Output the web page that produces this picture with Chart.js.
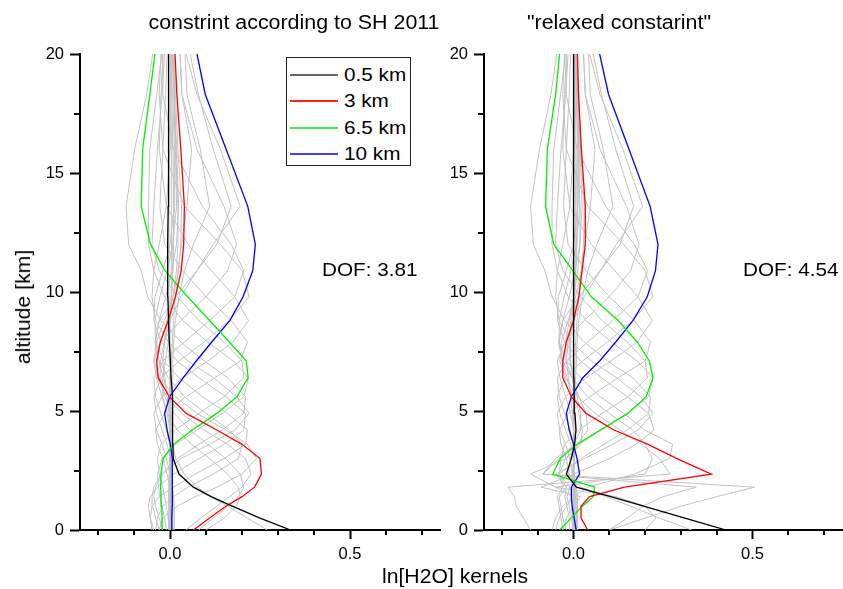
<!DOCTYPE html>
<html><head><meta charset="utf-8">
<script src="https://cdn.jsdelivr.net/npm/chart.js@4.4.1/dist/chart.umd.min.js"></script>
<style>
html,body{margin:0;padding:0;background:#fff;}
#wrap{position:relative;width:843px;height:589px;overflow:hidden;font-family:"Liberation Sans",Arial,sans-serif;color:#000;}
canvas{position:absolute;top:0;}
.t{position:absolute;white-space:nowrap;line-height:1;}
#legend{position:absolute;left:286px;top:57px;width:125px;height:109px;border:1px solid #222;box-sizing:border-box;background:#fff;}
.lg{position:absolute;left:3px;width:48px;height:0;border-top:2px solid;}
.lt{position:absolute;left:57px;font-size:18px;line-height:1;white-space:nowrap;transform:scaleX(1.15);transform-origin:left center;}
</style></head><body>
<div id="wrap">
<canvas id="c1" width="450" height="589" style="left:0px"></canvas>
<canvas id="c2" width="423" height="589" style="left:420px"></canvas>
<div class="t" id="t1" style="font-size:20px;left:294px;top:12px;transform:translateX(-50%) scaleX(1.07);">constrint according to SH 2011</div>
<div class="t" id="t2" style="font-size:20px;left:619px;top:12px;transform:translateX(-50%) scaleX(1.07);">"relaxed constarint"</div>
<div class="t" style="font-size:19px;left:322px;top:260px;transform:scaleX(1.09);transform-origin:left center;">DOF: 3.81</div>
<div class="t" style="font-size:19px;left:743px;top:260px;transform:scaleX(1.09);transform-origin:left center;">DOF: 4.54</div>
<div class="t" style="font-size:20px;left:455px;top:566px;transform:translateX(-50%) scaleX(1.06);">ln[H2O] kernels</div>
<div class="t" style="font-size:20px;left:23px;top:307px;transform:translate(-50%,-50%) rotate(-90deg) scaleX(1.06);">altitude [km]</div>
<div id="legend"></div>
</div>
<script>
// ---- data ----
const altitudes = [0,0.5,1.0,1.4,1.8,2.35,3.0,3.6,4.2,4.9,5.6,6.4,7.1,7.9,8.8,9.8,10.9,12.0,13.6,16.0,18.3,20.0];
const seriesNames = ['0.5 km','3 km','6.5 km','10 km'];
const seriesColors = ['#000000','#ff0000','#00ee00','#0000ff'];
const legendColors = ['#666666','#ff2020','#40ee40','#4040ff'];

const left05 = [0.335,0.25,0.173,0.114,0.065,0.025,0.009,0.008,0.008,0.0075,0.006,0.003,0.001,-0.002,-0.004,-0.006,-0.007,-0.006,-0.005,-0.004,-0.004,-0.004];
const left3 = [0.065,0.11,0.155,0.2,0.235,0.254,0.25,0.2,0.13,0.045,-0.002,-0.033,-0.037,-0.027,-0.005,0.015,0.031,0.038,0.04,0.03,0.019,0.014];
const left65 = [-0.021,-0.022,-0.023,-0.025,-0.026,-0.025,-0.019,0.01,0.062,0.13,0.186,0.217,0.212,0.165,0.11,0.049,-0.014,-0.054,-0.08,-0.076,-0.056,-0.042];
const left10 = [0.004,0.005,0.006,0.006,0.007,0.007,0.006,0.001,-0.008,-0.015,-0.001,0.037,0.073,0.116,0.166,0.203,0.23,0.237,0.216,0.156,0.098,0.075];

const right05 = [0.426,0.311,0.196,0.104,0.008,-0.02,-0.006,0.003,0.007,0.004,0.002,0.001,0,0,0,0,0,0,0,0.001,0.001,0.001];
const right3 = [0.04,0.021,0.021,0.045,0.142,0.385,0.289,0.208,0.113,0.035,-0.006,-0.03,-0.03,-0.02,0,0.015,0.024,0.033,0.033,0.022,0.014,0.011];
const right65 = [-0.039,-0.007,0.025,0.055,0.059,-0.058,-0.037,0.01,0.075,0.152,0.203,0.222,0.212,0.178,0.125,0.05,-0.002,-0.055,-0.078,-0.073,-0.05,-0.039];
const right10 = [0.0075,0.002,-0.004,-0.006,-0.006,0.017,0.01,0,-0.012,-0.02,-0.006,0.026,0.073,0.118,0.166,0.206,0.229,0.236,0.214,0.155,0.098,0.073];

const grayLeft = [
 [0.27,0.215,0.16,0.115,0.075,0.04,0.016,0.008,0.004,0.002,0.001,0,-0.001,-0.002,-0.003,-0.003,-0.003,-0.003,-0.003,-0.003,-0.003,-0.003],
 [0.1,0.15,0.185,0.195,0.19,0.16,0.11,0.06,0.02,-0.008,-0.02,-0.02,-0.013,-0.005,0,0.003,0.004,0.004,0.004,0.003,0.002,0.002],
 [0.08,0.12,0.16,0.19,0.205,0.195,0.155,0.105,0.055,0.012,-0.015,-0.028,-0.026,-0.016,-0.005,0.004,0.008,0.01,0.01,0.008,0.005,0.004],
 [0.045,0.085,0.13,0.165,0.2,0.225,0.21,0.16,0.095,0.032,-0.01,-0.035,-0.038,-0.026,-0.008,0.008,0.018,0.022,0.022,0.016,0.011,0.008],
 [-0.03,-0.02,0.02,0.07,0.13,0.2,0.24,0.215,0.155,0.075,0.015,-0.03,-0.045,-0.038,-0.015,0.008,0.024,0.03,0.032,0.022,0.015,0.011],
 [-0.04,-0.035,-0.02,0.01,0.05,0.12,0.19,0.2,0.165,0.1,0.04,-0.005,-0.03,-0.04,-0.03,-0.012,0.005,0.018,0.024,0.018,0.012,0.009],
 [-0.05,-0.055,-0.05,-0.03,0.01,0.07,0.15,0.21,0.215,0.16,0.09,0.025,-0.018,-0.04,-0.042,-0.028,-0.008,0.008,0.018,0.016,0.011,0.008],
 [-0.045,-0.055,-0.06,-0.055,-0.035,0.01,0.08,0.15,0.205,0.21,0.155,0.08,0.02,-0.025,-0.045,-0.042,-0.02,0,0.012,0.012,0.008,0.006],
 [-0.02,-0.03,-0.04,-0.045,-0.04,-0.02,0.03,0.11,0.18,0.22,0.185,0.12,0.05,-0.005,-0.04,-0.05,-0.045,-0.03,-0.01,0,0.002,0.002],
 [-0.03,-0.04,-0.048,-0.05,-0.045,-0.025,0.02,0.08,0.145,0.205,0.21,0.16,0.095,0.03,-0.025,-0.062,-0.08,-0.115,-0.122,-0.098,-0.065,-0.048],
 [-0.01,-0.015,-0.022,-0.028,-0.032,-0.034,-0.022,0.015,0.075,0.145,0.205,0.218,0.175,0.105,0.035,-0.015,-0.045,-0.06,-0.06,-0.056,-0.037,-0.023],
 [0,-0.005,-0.01,-0.015,-0.02,-0.03,-0.035,-0.025,0.015,0.08,0.15,0.205,0.2,0.15,0.08,0.02,-0.03,-0.05,-0.045,-0.035,-0.022,-0.015],
 [0.008,0.008,0.007,0.005,0,-0.008,-0.02,-0.035,-0.04,-0.015,0.045,0.125,0.195,0.215,0.17,0.1,0.035,-0.015,-0.028,-0.02,-0.012,-0.008],
 [0.012,0.012,0.012,0.01,0.006,0,-0.01,-0.022,-0.038,-0.045,-0.022,0.035,0.105,0.175,0.218,0.18,0.115,0.05,-0.01,-0.03,-0.025,-0.02],
 [0.008,0.008,0.008,0.008,0.006,0.004,0,-0.008,-0.022,-0.038,-0.045,-0.025,0.025,0.095,0.165,0.22,0.2,0.14,0.04,-0.02,-0.03,-0.025],
 [0.004,0.004,0.004,0.004,0.004,0.003,0.002,0,-0.01,-0.025,-0.04,-0.045,-0.02,0.04,0.11,0.18,0.205,0.17,0.09,0.01,-0.02,-0.02],
 [0,0,0,0,0,0,0.002,0.003,0,-0.008,-0.022,-0.038,-0.045,-0.025,0.03,0.1,0.16,0.185,0.15,0.075,0.033,0.028],
 [-0.004,-0.004,-0.004,-0.004,-0.003,-0.002,0,0.004,0.006,0.004,-0.004,-0.018,-0.032,-0.042,-0.03,0.015,0.075,0.13,0.17,0.12,0.079,0.056],
 [0.003,0.003,0.003,0.003,0.003,0.003,0.003,0.002,0,-0.003,-0.008,-0.014,-0.02,-0.015,0,0.03,0.075,0.12,0.195,0.14,0.075,0.045],
 [0,0,0,0,0,0,0,0,0.001,0.002,0.004,0.006,0.008,0.01,0.015,0.025,0.04,0.065,0.11,0.084,0.047,0.042],
 [0,0,0,0,0,0,0,0,0,0,0.001,0.002,0.004,0.006,0.01,0.015,0.022,0.032,0.047,0.06,0.033,0.028],
 [0,0,0,0,0,0,0,0,0,0,0,0,0,0.001,0.002,0.004,0.006,0.008,0.012,0.015,0.012,0.01]
];

const grayRight = [
 [0.33,0.24,0.16,0.09,0.02,-0.015,-0.008,0.001,0.005,0.004,0.002,0.001,0,0,-0.001,-0.001,-0.001,-0.001,-0.001,-0.001,-0.001,-0.001],
 [0.2,0.23,0.2,0.12,-0.05,-0.12,-0.02,0.02,0.025,0.015,0.005,-0.003,-0.008,-0.008,-0.004,0,0.004,0.006,0.006,0.004,0.003,0.002],
 [0.1,0.15,0.194,0.25,0.343,-0.086,-0.04,0,0.02,0.02,0.01,0,-0.01,-0.012,-0.008,0,0.006,0.01,0.01,0.007,0.005,0.004],
 [0.1,0.2,0.3,0.4,0.506,-0.086,-0.05,0.01,0.04,0.035,0.015,-0.005,-0.02,-0.022,-0.012,0,0.012,0.018,0.018,0.012,0.008,0.006],
 [-0.12,-0.14,-0.16,-0.165,-0.183,0.27,0.24,0.19,0.13,0.06,0.012,-0.022,-0.038,-0.034,-0.015,0.006,0.022,0.028,0.03,0.02,0.014,0.01],
 [-0.06,-0.05,-0.03,0,-0.05,0.2,0.22,0.2,0.165,0.1,0.04,-0.005,-0.03,-0.04,-0.03,-0.012,0.005,0.018,0.024,0.018,0.012,0.009],
 [-0.05,-0.04,-0.02,0,0.04,0.17,0.268,0.277,0.2,0.14,0.075,0.02,-0.02,-0.04,-0.04,-0.026,-0.007,0.008,0.018,0.016,0.011,0.008],
 [-0.03,-0.02,0,0.02,-0.09,0,0.1,0.175,0.225,0.21,0.15,0.078,0.02,-0.025,-0.045,-0.042,-0.02,0,0.012,0.012,0.008,0.006],
 [-0.02,-0.03,-0.035,-0.04,-0.02,-0.05,0.03,0.11,0.18,0.222,0.188,0.12,0.05,-0.005,-0.04,-0.05,-0.045,-0.03,-0.01,0,0.002,0.002],
 [-0.03,-0.035,-0.04,-0.045,-0.03,-0.04,0.02,0.085,0.15,0.21,0.215,0.165,0.095,0.03,-0.025,-0.06,-0.08,-0.112,-0.12,-0.095,-0.063,-0.047],
 [-0.01,-0.012,-0.018,-0.024,-0.02,-0.04,-0.022,0.015,0.078,0.15,0.21,0.222,0.178,0.105,0.035,-0.015,-0.045,-0.06,-0.06,-0.055,-0.036,-0.023],
 [0,-0.005,-0.012,-0.018,-0.01,-0.04,-0.035,-0.025,0.015,0.08,0.152,0.207,0.2,0.15,0.08,0.02,-0.03,-0.05,-0.045,-0.035,-0.022,-0.015],
 [0.008,0.008,0.007,0.005,0.004,-0.012,-0.02,-0.035,-0.04,-0.015,0.045,0.125,0.2,0.215,0.17,0.1,0.035,-0.015,-0.028,-0.02,-0.012,-0.008],
 [0.012,0.012,0.012,0.01,0.008,-0.004,-0.01,-0.022,-0.038,-0.045,-0.022,0.035,0.105,0.178,0.22,0.18,0.115,0.05,-0.01,-0.03,-0.025,-0.02],
 [0.008,0.008,0.008,0.008,0.007,0.002,0,-0.008,-0.022,-0.038,-0.045,-0.025,0.025,0.095,0.165,0.222,0.2,0.14,0.04,-0.02,-0.03,-0.025],
 [0.004,0.004,0.004,0.004,0.005,0.001,0.002,0,-0.01,-0.025,-0.04,-0.045,-0.02,0.04,0.11,0.18,0.207,0.17,0.09,0.01,-0.02,-0.02],
 [0,0,0,0,0,0,0.002,0.003,0,-0.008,-0.022,-0.038,-0.045,-0.025,0.03,0.1,0.16,0.183,0.148,0.074,0.033,0.028],
 [-0.004,-0.004,-0.004,-0.004,-0.003,-0.002,0,0.004,0.006,0.004,-0.004,-0.018,-0.032,-0.042,-0.03,0.015,0.075,0.13,0.168,0.118,0.078,0.055],
 [0.003,0.003,0.003,0.003,0.003,0.003,0.003,0.002,0,-0.003,-0.008,-0.014,-0.02,-0.015,0,0.03,0.075,0.12,0.193,0.138,0.074,0.045],
 [0,0,0,0,0,0,0,0,0.001,0.002,0.004,0.006,0.008,0.01,0.015,0.025,0.04,0.065,0.11,0.083,0.047,0.042],
 [0,0,0,0,0,0,0,0,0,0,0.001,0.002,0.004,0.006,0.01,0.015,0.022,0.032,0.047,0.06,0.033,0.028],
 [0,0,0,0,0,0,0,0,0,0,0,0,0,0.001,0.002,0.004,0.006,0.008,0.012,0.015,0.012,0.01]
];

const xMajorTicks = [0, 0.5];
const xTickLabels = ['0.0', '0.5'];
const xMinorTicks = [-0.2,-0.1,0.1,0.2,0.3,0.4,0.6,0.7];
const yMajorTicks = [0, 5, 10, 15, 20];
const yTickLabels = ['0', '5', '10', '15', '20'];
const yMinorTicks = [2.5, 7.5, 12.5, 17.5];

// ---- legend (HTML) ----
const lgBox = document.getElementById('legend');
seriesNames.forEach((n, i) => {
  const rowY = 17 + i * 26.4;
  const l = document.createElement('div');
  l.className = 'lg'; l.style.top = (rowY - 1) + 'px'; l.style.borderTopColor = legendColors[i];
  lgBox.appendChild(l);
  const t = document.createElement('div');
  t.className = 'lt'; t.style.top = (rowY - 9) + 'px'; t.textContent = n;
  lgBox.appendChild(t);
});

// ---- charts ----
const minorTicks = {
  id: 'minorTicks',
  afterDraw(chart) {
    const { ctx, chartArea, scales } = chart;
    ctx.save();
    ctx.strokeStyle = '#000';
    ctx.lineWidth = 2;
    xMinorTicks.forEach(v => {
      const px = Math.round(scales.x.getPixelForValue(v));
      ctx.beginPath(); ctx.moveTo(px, chartArea.bottom); ctx.lineTo(px, chartArea.bottom + 5); ctx.stroke();
    });
    yMinorTicks.forEach(v => {
      const py = Math.round(scales.y.getPixelForValue(v));
      ctx.beginPath(); ctx.moveTo(chartArea.left, py); ctx.lineTo(chartArea.left - 6, py); ctx.stroke();
    });
    ctx.restore();
  }
};

function toPoints(vals) { return altitudes.map((a, i) => ({ x: vals[i], y: a })); }

function makeChart(id, colored, grays, yWidth, padRight) {
  const datasets = [];
  colored.forEach((vals, i) => datasets.push({
    label: seriesNames[i], data: toPoints(vals), borderColor: seriesColors[i],
    borderWidth: 1.3, pointRadius: 0, showLine: true, fill: false, tension: 0
  }));
  grays.forEach(vals => datasets.push({
    label: '', data: toPoints(vals), borderColor: '#c2c2c2',
    borderWidth: 1, pointRadius: 0, showLine: true, fill: false, tension: 0
  }));
  const tickFont = { family: '"Liberation Sans", Arial, sans-serif', size: 16.5 };
  return new Chart(document.getElementById(id), {
    type: 'scatter',
    data: { datasets },
    options: {
      responsive: false, animation: false, events: [],
      layout: { padding: { left: 0, right: padRight, top: 54, bottom: 0 } },
      plugins: { legend: { display: false }, tooltip: { enabled: false }, title: { display: false } },
      scales: {
        x: {
          type: 'linear', min: -0.25, max: 0.75,
          afterBuildTicks: s => { s.ticks = xMajorTicks.map(v => ({ value: v })); },
          afterFit: s => { s.height = 59; },
          ticks: { callback: (v, i) => xTickLabels[i], font: tickFont, color: '#000', padding: 6, maxRotation: 0, autoSkip: false },
          grid: { drawOnChartArea: false, drawTicks: true, tickLength: 9, tickColor: '#000', tickWidth: 2 },
          border: { display: true, color: '#000', width: 2 }
        },
        y: {
          type: 'linear', min: 0, max: 20,
          afterBuildTicks: s => { s.ticks = yMajorTicks.map(v => ({ value: v })); },
          afterFit: s => { s.width = yWidth; },
          ticks: { callback: (v, i) => yTickLabels[i], font: tickFont, color: '#000', padding: 6, autoSkip: false },
          grid: { drawOnChartArea: false, drawTicks: true, tickLength: 10, tickColor: '#000', tickWidth: 2 },
          border: { display: true, color: '#000', width: 2 }
        }
      }
    },
    plugins: [minorTicks]
  });
}

makeChart('c1', [left05, left3, left65, left10], grayLeft, 80, 10);
makeChart('c2', [right05, right3, right65, right10], grayRight, 64, 1);
</script>
</body></html>
